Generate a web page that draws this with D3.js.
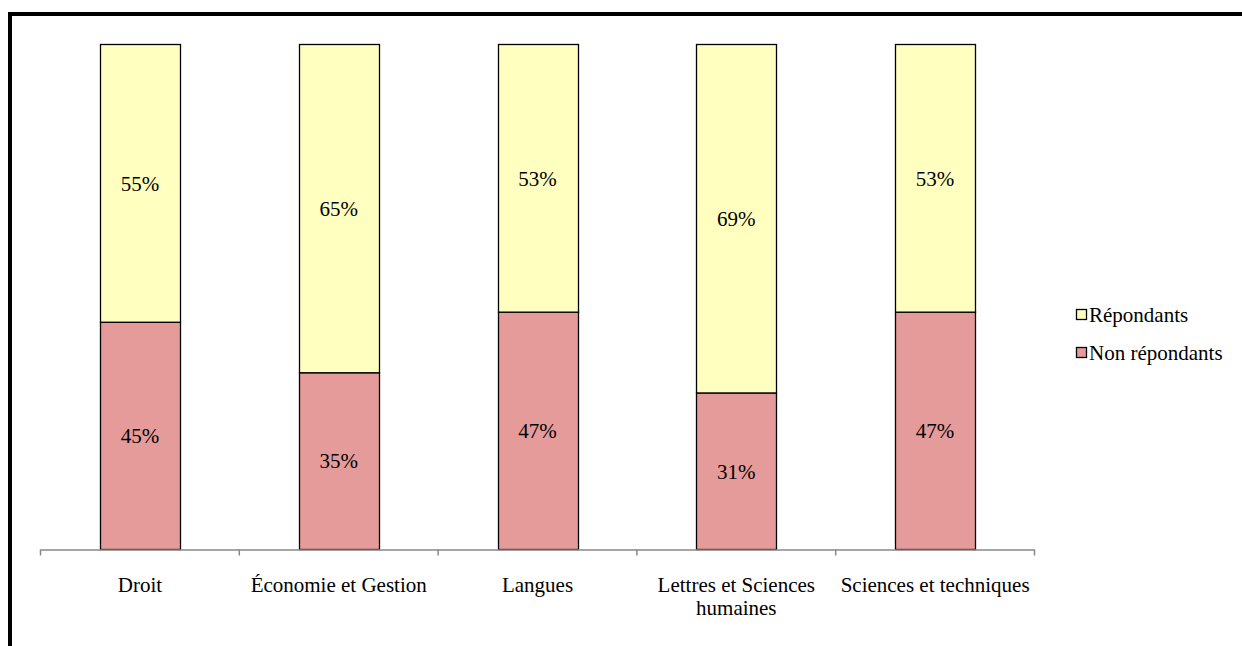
<!DOCTYPE html>
<html>
<head>
<meta charset="utf-8">
<script src="https://cdn.jsdelivr.net/npm/d3@7"></script>
<style>
  body { margin: 0; background: #fff; }
  svg { display: block; }
</style>
</head>
<body>
<div id="chart"></div>
<script>
// data
var categories = ["Droit", "Économie et Gestion", "Langues", "Lettres et Sciences humaines", "Sciences et techniques"];
var nonRepondants = [45, 35, 47, 31, 47];
var repondants = [55, 65, 53, 69, 53];
var seriesNames = ["Répondants", "Non répondants"];
var seriesColors = ["#ffffc0", "#e69b9b"];

var W = 1242, H = 646;
var FONT = "'Liberation Serif'";
var FS = "21px";

var svg = d3.select("#chart")
  .append("svg")
    .attr("width", W)
    .attr("height", H);

// outer frame (top and left only visible)
svg.append("line").attr("x1", 8).attr("x2", W).attr("y1", 14).attr("y2", 14)
  .attr("stroke", "#000").attr("stroke-width", 4);
svg.append("line").attr("x1", 10).attr("x2", 10).attr("y1", 12).attr("y2", H)
  .attr("stroke", "#000").attr("stroke-width", 4);

var x = d3.scaleBand()
  .domain(categories)
  .range([40.5, 1034.5])
  .padding(0);

var y = d3.scaleLinear()
  .domain([0, 100])
  .range([549.5, 44.5]);

var barW = 80;

// stacked rows
var rows = categories.map(function(c, i) {
  return { cat: c, non: nonRepondants[i], rep: repondants[i] };
});

var g = svg.append("g");

// non répondants (bottom)
g.selectAll("rect.non")
  .data(rows)
  .enter()
  .append("rect")
    .attr("class", "non")
    .attr("x", function(d) { return Math.round(x(d.cat) + x.bandwidth() / 2 - barW / 2) + 0.5; })
    .attr("y", function(d) { return y(d.non); })
    .attr("width", barW)
    .attr("height", function(d) { return y(0) - y(d.non); })
    .style("fill", seriesColors[1])
    .style("stroke", "#000")
    .style("stroke-width", 1.3);

// répondants (top)
g.selectAll("rect.rep")
  .data(rows)
  .enter()
  .append("rect")
    .attr("class", "rep")
    .attr("x", function(d) { return Math.round(x(d.cat) + x.bandwidth() / 2 - barW / 2) + 0.5; })
    .attr("y", function(d) { return y(d.non + d.rep); })
    .attr("width", barW)
    .attr("height", function(d) { return y(d.non) - y(d.non + d.rep); })
    .style("fill", seriesColors[0])
    .style("stroke", "#000")
    .style("stroke-width", 1.3);

// value labels
g.selectAll("text.nonlab")
  .data(rows)
  .enter()
  .append("text")
    .attr("x", function(d) { return x(d.cat) + x.bandwidth() / 2; })
    .attr("y", function(d) { return (y(0) + y(d.non)) / 2; })
    .attr("text-anchor", "middle")
    .attr("dy", "0.35em")
    .style("font-family", FONT)
    .style("font-size", FS)
    .text(function(d) { return d.non + "%"; });

g.selectAll("text.replab")
  .data(rows)
  .enter()
  .append("text")
    .attr("x", function(d) { return x(d.cat) + x.bandwidth() / 2; })
    .attr("y", function(d) { return (y(d.non) + y(d.non + d.rep)) / 2; })
    .attr("text-anchor", "middle")
    .attr("dy", "0.35em")
    .style("font-family", FONT)
    .style("font-size", FS)
    .text(function(d) { return d.rep + "%"; });

// x axis
var axisColor = "#888";
svg.append("line")
  .attr("x1", x.range()[0]).attr("x2", x.range()[1])
  .attr("y1", y(0) + 0.5).attr("y2", y(0) + 0.5)
  .attr("stroke", axisColor).attr("stroke-width", 1.5);

var tickPos = categories.map(function(c) { return x(c); }).concat([x.range()[1]]);
svg.selectAll("line.tick")
  .data(tickPos)
  .enter()
  .append("line")
    .attr("x1", function(d) { return d; })
    .attr("x2", function(d) { return d; })
    .attr("y1", y(0))
    .attr("y2", y(0) + 6)
    .attr("stroke", axisColor)
    .attr("stroke-width", 1.5);

// category labels (wrapped)
function wrap(label, maxW) {
  var words = label.split(" "), lines = [], line = "";
  var tmp = svg.append("text").style("font-family", FONT).style("font-size", FS);
  words.forEach(function(w) {
    var test = line ? line + " " + w : w;
    tmp.text(test);
    if (tmp.node().getComputedTextLength() > maxW && line) {
      lines.push(line);
      line = w;
    } else {
      line = test;
    }
  });
  lines.push(line);
  tmp.remove();
  return lines;
}

categories.forEach(function(c) {
  var lines = wrap(c, x.bandwidth() - 2);
  var t = svg.append("text")
    .attr("x", x(c) + x.bandwidth() / 2)
    .attr("y", 592)
    .attr("text-anchor", "middle")
    .style("font-family", FONT)
    .style("font-size", FS);
  lines.forEach(function(l, i) {
    t.append("tspan")
      .attr("x", x(c) + x.bandwidth() / 2)
      .attr("dy", i === 0 ? 0 : 23)
      .text(l);
  });
});

// legend
var legend = svg.append("g");
seriesNames.forEach(function(name, i) {
  var ly = 315 + i * 38;
  legend.append("rect")
    .attr("x", 1076.5).attr("y", ly - 5.5)
    .attr("width", 10).attr("height", 10)
    .style("fill", seriesColors[i])
    .style("stroke", "#000")
    .style("stroke-width", 1.3);
  legend.append("text")
    .attr("x", 1089).attr("y", ly)
    .attr("dy", "0.35em")
    .style("font-family", FONT)
    .style("font-size", FS)
    .text(name);
});
</script>
</body>
</html>
